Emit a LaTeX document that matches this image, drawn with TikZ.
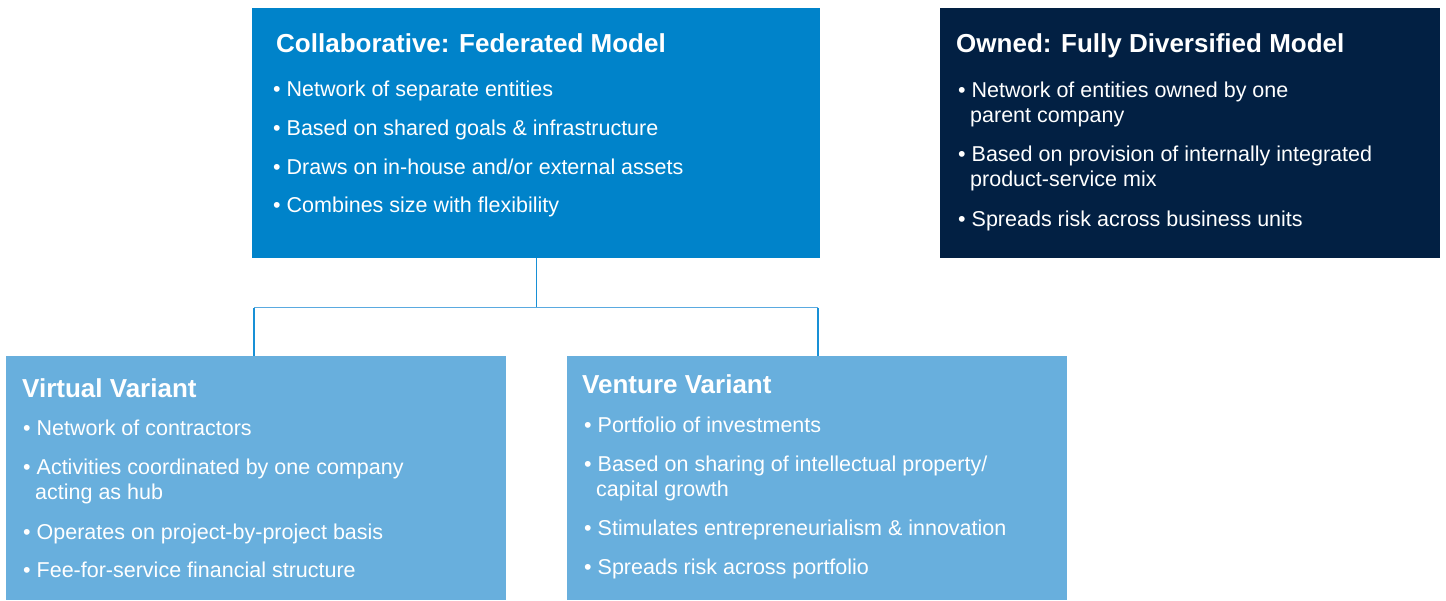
\documentclass[tikz,border=0pt]{standalone}
\usepackage{fontspec}
\setmainfont{Liberation Sans}
\definecolor{fedblue}{HTML}{0083CA}
\definecolor{navy}{HTML}{022043}
\definecolor{varblue}{HTML}{68AFDD}
\definecolor{linkdark}{HTML}{1890D6}
\definecolor{linklight}{HTML}{5AAAE0}
\tikzset{
  panel/.style={anchor=north west, inner sep=0pt, outer sep=0pt},
  ttl/.style={anchor=base west, inner sep=0pt, text=white, font=\fontsize{26}{30}\selectfont\bfseries},
  itm/.style={anchor=base west, inner sep=0pt, text=white, align=left, font=\fontsize{21.5}{25}\selectfont},
  linkv/.style={draw=linkdark, line width=1.4pt},
  linkh/.style={draw=linklight, line width=1.8pt},
}
\begin{document}
\begin{tikzpicture}[x=1pt,y=-1pt]
\useasboundingbox (0,0) rectangle (1446,600);
% panels
\fill[fedblue] (252,8) rectangle (820,258);
\node[panel, minimum width=568pt, minimum height=250pt] (fed) at (252,8) {};
\fill[navy] (940,8) rectangle (1440,258);
\node[panel, minimum width=500pt, minimum height=250pt] (own) at (940,8) {};
\fill[varblue] (6,356) rectangle (506,600);
\node[panel, minimum width=500pt, minimum height=244pt] (virt) at (6,356) {};
\fill[varblue] (567,356) rectangle (1067,600);
\node[panel, minimum width=500pt, minimum height=244pt] (vent) at (567,356) {};
% connectors
\coordinate (hub) at (536.5,307.5);
\coordinate (hl) at (254,307.5);
\coordinate (hr) at (818,307.5);
\draw[linkv] (fed.south -| hub) -- (hub);
\draw[linkh] (hl) -- (hr);
\draw[linkv] (hl) -- (hl |- virt.north);
\draw[linkv] (hr) -- (hr |- vent.north);
% federated text
\node[ttl] (fedt) at (276,52) {Collaborative: Federated Model};
\node[itm] (fed1) at (273,96.7) {• Network of separate entities};
\node[itm] (fed2) at (273,135.5) {• Based on shared goals \& infrastructure};
\node[itm] (fed3) at (273,174) {• Draws on in-house and/or external assets};
\node[itm] (fed4) at (273,212.5) {• Combines size with flexibility};
% owned text
\node[ttl] (ownt) at (956,52.4) {Owned: Fully Diversified Model};
\node[itm] (own1) at (958,122.3) {• Network of entities owned by one\\\hspace*{12pt}parent company};
\node[itm] (own2) at (958,186.5) {• Based on provision of internally integrated\\\hspace*{12pt}product-service mix};
\node[itm] (own3) at (958,226.4) {• Spreads risk across business units};
% virtual text
\node[ttl] (virtt) at (22,397.3) {Virtual Variant};
\node[itm] (virt1) at (23,435) {• Network of contractors};
\node[itm] (virt2) at (23,499.3) {• Activities coordinated by one company\\\hspace*{12pt}acting as hub};
\node[itm] (virt3) at (23,539.3) {• Operates on project-by-project basis};
\node[itm] (virt4) at (23,577.7) {• Fee-for-service financial structure};
% venture text
\node[ttl] (ventt) at (582,393.3) {Venture Variant};
\node[itm] (vent1) at (584,432.7) {• Portfolio of investments};
\node[itm] (vent2) at (584,496.7) {• Based on sharing of intellectual property/\\\hspace*{12pt}capital growth};
\node[itm] (vent3) at (584,535) {• Stimulates entrepreneurialism \& innovation};
\node[itm] (vent4) at (584,574.3) {• Spreads risk across portfolio};
\end{tikzpicture}
\end{document}
